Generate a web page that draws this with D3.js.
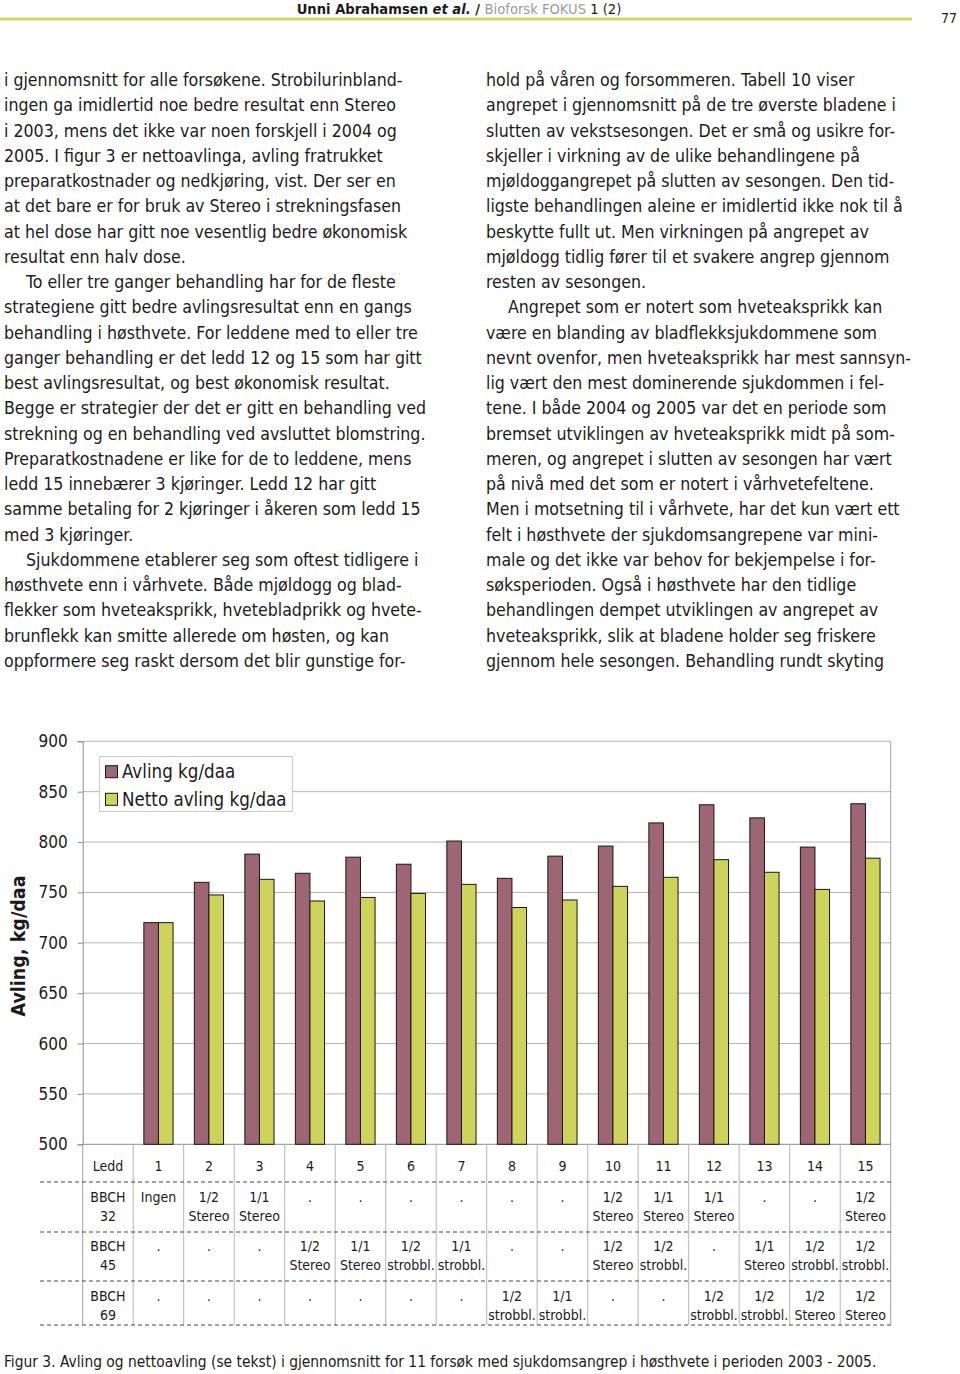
<!DOCTYPE html>
<html><head><meta charset="utf-8">
<script src="https://cdn.jsdelivr.net/npm/d3@7"></script>
<style>
html,body{margin:0;padding:0;background:#fff;}
svg{display:block;}
text{font-family:"DejaVu Sans Condensed","DejaVu Sans",sans-serif;font-stretch:condensed;fill:#1a1a1a;}
</style></head>
<body>
<svg id="page" width="960" height="1374"></svg>
<script>
// ---------- data ----------
const categories = ["Ledd","1","2","3","4","5","6","7","8","9","10","11","12","13","14","15"];
const ledd = ["1","2","3","4","5","6","7","8","9","10","11","12","13","14","15"];
const avling = [720,760,788,769,785,778,801,764,786,796,819,837,824,795,838];
const netto  = [720,747.5,763,741.5,745,749,758,735,742.5,756,765,782.5,770,753,784];
const seriesNames = ["Avling kg/daa","Netto avling kg/daa"];
const yTicks = [500,550,600,650,700,750,800,850,900];
const rowLabels = [["BBCH","32"],["BBCH","45"],["BBCH","69"]];
const bbch32 = ["Ingen","1/2 Stereo","1/1 Stereo",".",".",".",".",".",".","1/2 Stereo","1/1 Stereo","1/1 Stereo",".",".","1/2 Stereo"];
const bbch45 = [".",".",".","1/2 Stereo","1/1 Stereo","1/2 strobbl.","1/1 strobbl.",".",".","1/2 Stereo","1/2 strobbl.",".","1/1 Stereo","1/2 strobbl.","1/2 strobbl."];
const bbch69 = [".",".",".",".",".",".",".","1/2 strobbl.","1/1 strobbl.",".",".","1/2 strobbl.","1/2 strobbl.","1/2 Stereo","1/2 Stereo"];
const yTitle = "Avling, kg/daa";
const caption = "Figur 3. Avling og nettoavling (se tekst) i gjennomsnitt for 11 forsøk med sjukdomsangrep i høsthvete i perioden 2003 - 2005.";

const leftLines = [
 [0,"i gjennomsnitt for alle forsøkene. Strobilurinbland-"],
 [0,"ingen ga imidlertid noe bedre resultat enn Stereo"],
 [0,"i 2003, mens det ikke var noen forskjell i 2004 og"],
 [0,"2005. I figur 3 er nettoavlinga, avling fratrukket"],
 [0,"preparatkostnader og nedkjøring, vist. Der ser en"],
 [0,"at det bare er for bruk av Stereo i strekningsfasen"],
 [0,"at hel dose har gitt noe vesentlig bedre økonomisk"],
 [0,"resultat enn halv dose."],
 [1,"To eller tre ganger behandling har for de fleste"],
 [0,"strategiene gitt bedre avlingsresultat enn en gangs"],
 [0,"behandling i høsthvete. For leddene med to eller tre"],
 [0,"ganger behandling er det ledd 12 og 15 som har gitt"],
 [0,"best avlingsresultat, og best økonomisk resultat."],
 [0,"Begge er strategier der det er gitt en behandling ved"],
 [0,"strekning og en behandling ved avsluttet blomstring."],
 [0,"Preparatkostnadene er like for de to leddene, mens"],
 [0,"ledd 15 innebærer 3 kjøringer. Ledd 12 har gitt"],
 [0,"samme betaling for 2 kjøringer i åkeren som ledd 15"],
 [0,"med 3 kjøringer."],
 [1,"Sjukdommene etablerer seg som oftest tidligere i"],
 [0,"høsthvete enn i vårhvete. Både mjøldogg og blad-"],
 [0,"flekker som hveteaksprikk, hvetebladprikk og hvete-"],
 [0,"brunflekk kan smitte allerede om høsten, og kan"],
 [0,"oppformere seg raskt dersom det blir gunstige for-"]
];
const rightLines = [
 [0,"hold på våren og forsommeren. Tabell 10 viser"],
 [0,"angrepet i gjennomsnitt på de tre øverste bladene i"],
 [0,"slutten av vekstsesongen. Det er små og usikre for-"],
 [0,"skjeller i virkning av de ulike behandlingene på"],
 [0,"mjøldoggangrepet på slutten av sesongen. Den tid-"],
 [0,"ligste behandlingen aleine er imidlertid ikke nok til å"],
 [0,"beskytte fullt ut. Men virkningen på angrepet av"],
 [0,"mjøldogg tidlig fører til et svakere angrep gjennom"],
 [0,"resten av sesongen."],
 [1,"Angrepet som er notert som hveteaksprikk kan"],
 [0,"være en blanding av bladflekksjukdommene som"],
 [0,"nevnt ovenfor, men hveteaksprikk har mest sannsyn-"],
 [0,"lig vært den mest dominerende sjukdommen i fel-"],
 [0,"tene. I både 2004 og 2005 var det en periode som"],
 [0,"bremset utviklingen av hveteaksprikk midt på som-"],
 [0,"meren, og angrepet i slutten av sesongen har vært"],
 [0,"på nivå med det som er notert i vårhvetefeltene."],
 [0,"Men i motsetning til i vårhvete, har det kun vært ett"],
 [0,"felt i høsthvete der sjukdomsangrepene var mini-"],
 [0,"male og det ikke var behov for bekjempelse i for-"],
 [0,"søksperioden. Også i høsthvete har den tidlige"],
 [0,"behandlingen dempet utviklingen av angrepet av"],
 [0,"hveteaksprikk, slik at bladene holder seg friskere"],
 [0,"gjennom hele sesongen. Behandling rundt skyting"]
];

// ---------- page ----------
const svg = d3.select("#page");

// header
const hdr = svg.append("text").attr("x",459).attr("y",14).attr("text-anchor","middle")
  .style("font-size","14.6px");
hdr.append("tspan").attr("font-weight","bold").text("Unni Abrahamsen ");
hdr.append("tspan").attr("font-weight","bold").attr("font-style","italic").text("et al.");
hdr.append("tspan").attr("font-weight","bold").text(" / ");
hdr.append("tspan").style("fill","#9a9a9a").text("Bioforsk FOKUS ");
hdr.append("tspan").text("1 (2)");
svg.append("line").attr("x1",0).attr("x2",912).attr("y1",19).attr("y2",19)
  .attr("stroke","#cfd66a").attr("stroke-width",3);
svg.append("text").attr("x",957).attr("y",23).attr("text-anchor","end").style("font-size","14px").text("77");

// body text
function column(lines,x0){
  svg.append("g").selectAll("text").data(lines).join("text")
    .attr("x",d=>x0+(d[0]?22:0))
    .attr("y",(d,i)=>80+i*25.25+6)
    .style("font-size","17.6px")
    .text(d=>d[1]);
}
column(leftLines,4);
column(rightLines,486);

// ---------- chart ----------
const x = d3.scaleBand().domain(categories).range([82.7,890.7]).padding(0);
const y = d3.scaleLinear().domain([500,900]).range([1144.3,741.3]);
const xi = d3.scaleBand().domain(["a","n"]).range([0,x.bandwidth()]).paddingInner(0).paddingOuter(0.73);
const colors = ["#9e6574","#cdd35b"];

// gridlines
svg.append("g").selectAll("line").data(yTicks.filter(t=>t>500)).join("line")
  .attr("x1",x.range()[0]).attr("x2",x.range()[1])
  .attr("y1",d=>y(d)).attr("y2",d=>y(d))
  .attr("stroke","#b4b4b4").attr("stroke-width",1);

// y axis
const yAxis = svg.append("g").attr("transform",`translate(${x.range()[0]},0)`)
  .call(d3.axisLeft(y).tickValues(yTicks).tickSize(5).tickPadding(10));
yAxis.select(".domain").attr("stroke","#8c8c8c");
yAxis.selectAll(".tick line").attr("stroke","#8c8c8c");
yAxis.selectAll(".tick text").style("font-size","17px").attr("fill","#1a1a1a")
  .style("font-family","'DejaVu Sans Condensed','DejaVu Sans',sans-serif");

// right border & bottom axis line
svg.append("line").attr("x1",x.range()[1]).attr("x2",x.range()[1]).attr("y1",y(900)).attr("y2",1325)
  .attr("stroke","#a0a0a0");
svg.append("line").attr("x1",x.range()[0]).attr("x2",x.range()[1]).attr("y1",y(500)).attr("y2",y(500))
  .attr("stroke","#8c8c8c");
// left axis continue through table
svg.append("line").attr("x1",x.range()[0]).attr("x2",x.range()[0]).attr("y1",y(500)).attr("y2",1325)
  .attr("stroke","#a0a0a0");
// category boundary lines down through table
svg.append("g").selectAll("line").data(categories.slice(1)).join("line")
  .attr("x1",d=>x(d)).attr("x2",d=>x(d)).attr("y1",y(500)).attr("y2",1325)
  .attr("stroke","#b4b4b4");

// bars
const barData = [];
ledd.forEach((c,i)=>{
  barData.push({c,k:"a",v:avling[i],col:colors[0]});
  barData.push({c,k:"n",v:netto[i],col:colors[1]});
});
svg.append("g").selectAll("rect").data(barData).join("rect")
  .attr("x",d=>x(d.c)+xi(d.k))
  .attr("width",xi.bandwidth())
  .attr("y",d=>y(d.v))
  .attr("height",d=>y(500)-y(d.v))
  .attr("fill",d=>d.col)
  .attr("stroke","#1e1414").attr("stroke-width",1);

// legend
const lg = svg.append("g");
lg.append("rect").attr("x",99.5).attr("y",756.5).attr("width",193).attr("height",55)
  .attr("fill","#fff").attr("stroke","#c8c8c8");
seriesNames.forEach((n,i)=>{
  const cy = 771.7 + i*27.6;
  lg.append("rect").attr("x",105.5).attr("y",cy-6).attr("width",12).attr("height",12)
    .attr("fill",colors[i]).attr("stroke","#1e1414");
  lg.append("text").attr("x",122).attr("y",cy+6.5).style("font-size","18.6px").text(n);
});

// y title
svg.append("text").attr("transform","translate(25,946) rotate(-90)")
  .attr("text-anchor","middle").style("font-size","19.5px").attr("font-weight","bold")
  .text(yTitle);

// ---------- table ----------
const tfs = "14px";
svg.append("g").selectAll("text").data(categories).join("text")
  .attr("x",d=>x(d)+x.bandwidth()/2).attr("y",1171).attr("text-anchor","middle")
  .style("font-size",tfs).text(d=>d);

[1182,1232,1281,1325].forEach(yy=>{
  svg.append("line").attr("x1",40).attr("x2",890.7).attr("y1",yy).attr("y2",yy)
    .attr("stroke","#444").attr("stroke-dasharray","4,3");
});

const rows = [bbch32,bbch45,bbch69];
const rowY = [1197,1246,1296];
rows.forEach((r,ri)=>{
  const g = svg.append("g");
  const cells = [rowLabels[ri].join(" ")].concat(r);
  g.selectAll("text").data(cells).join("text")
    .attr("text-anchor","middle")
    .attr("x",(d,i)=>x(categories[i])+x.bandwidth()/2)
    .attr("y",rowY[ri]+5)
    .style("font-size",tfs)
    .each(function(d){
      const parts = d.split(" ");
      const t = d3.select(this);
      const cx = +t.attr("x");
      parts.forEach((p,j)=>{
        t.append("tspan").attr("x",cx).attr("dy",j===0?0:18.5).text(p);
      });
    });
});

// caption
svg.append("text").attr("x",4).attr("y",1367).style("font-size","15.4px").text(caption);
</script>
</body></html>
